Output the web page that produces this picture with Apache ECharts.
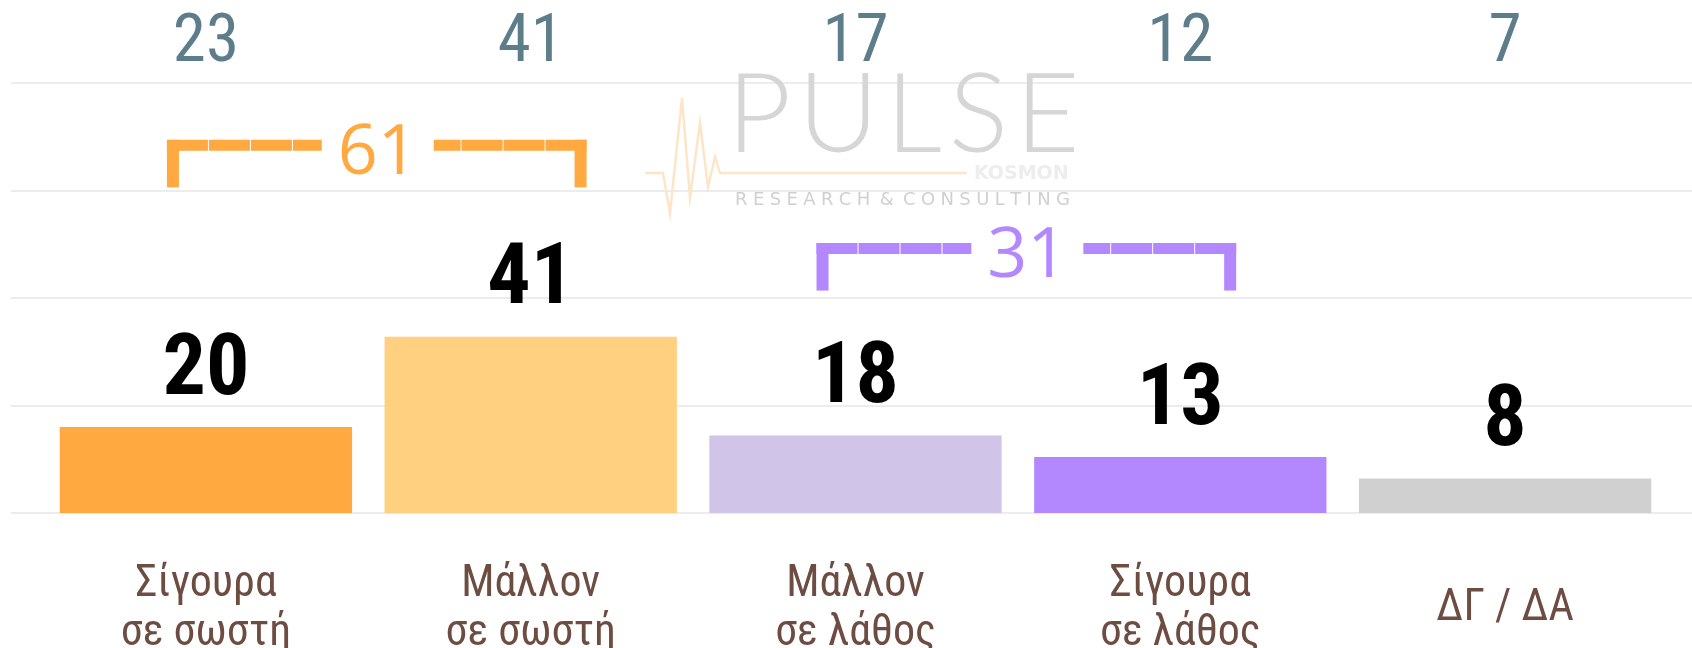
<!DOCTYPE html>
<html>
<head>
<meta charset="utf-8">
<script src="https://cdn.jsdelivr.net/npm/echarts@6/dist/echarts.min.js"></script>
<style>
  html, body { margin: 0; padding: 0; background: #fff; }
  #chart { width: 1692px; height: 648px; }
</style>
</head>
<body>
<div id="chart"></div>
<script>
// data
var categories = ['Σίγουρα\nσε σωστή', 'Μάλλον\nσε σωστή', 'Μάλλον\nσε λάθος', 'Σίγουρα\nσε λάθος', 'ΔΓ / ΔΑ'];
var values = [20, 41, 18, 13, 8];
var previous = [23, 41, 17, 12, 7];
var groupStart = [0, 2];
var groupEnd = [1, 3];
var groupSums = [61, 31];
var yTicks = [0, 25, 50, 75, 100];

(function() {
  var barColors = ['#FFA940', '#FFD080', '#D0C4E8', '#B388FF', '#D0D0D0'];
  var bracketColors = ['#FFA940', '#B388FF'];
  var bracketLevels = [85.5, 61.5];
  var narrow = "'Roboto Condensed', 'Liberation Sans Narrow', 'DejaVu Sans Condensed', sans-serif";

  var chart = echarts.init(document.getElementById('chart'), null, { renderer: 'canvas' });

  var groups = groupSums.map(function(s, i) { return [groupStart[i], groupEnd[i], s]; });

  chart.setOption({
    animation: false,
    grid: [
      { left: 11, right: 0, top: 83, bottom: 135, outerBoundsMode: 'none' },
      { left: 43.5, right: 24.5, top: 83, bottom: 135, outerBoundsMode: 'none' }
    ],
    xAxis: [
      { gridIndex: 0, type: 'value', show: false },
      { gridIndex: 1, type: 'category', data: categories, position: 'bottom',
        axisLine: { show: false }, axisTick: { show: false },
        axisLabel: { color: '#6D4C41', fontFamily: narrow, fontSize: 44, lineHeight: 49,
          margin: 96, verticalAlign: 'middle', interval: 0 } },
      { gridIndex: 1, type: 'category', data: previous.map(String), position: 'top',
        axisLine: { show: false }, axisTick: { show: false },
        axisLabel: { color: '#5E7D8B', fontFamily: narrow, fontSize: 67,
          margin: 39, verticalAlign: 'middle', interval: 0 } }
    ],
    yAxis: [
      { gridIndex: 0, type: 'value', min: yTicks[0], max: yTicks[yTicks.length - 1], interval: 25,
        axisLine: { show: false }, axisTick: { show: false }, axisLabel: { show: false },
        splitLine: { lineStyle: { color: '#E6E6E6', width: 1.5 } } },
      { gridIndex: 1, type: 'value', min: 0, max: 100, show: false, splitLine: { show: false } }
    ],
    graphic: [
      { type: 'polyline', z: 1, silent: true,
        shape: { points: [[645,173],[663,173],[670,213],[682,98],[690,198],[700,123],[708,187],[715,157],[720,173],[967,173]] },
        style: { stroke: '#FDE6C8', lineWidth: 2.5, fill: null } },
      { type: 'text', z: 1, silent: true, left: 727, top: 61,
        style: { text: 'P\u200AU\u200AL\u200AS\u200AE', fill: '#D6D6D6', font: '300 111px Lato, sans-serif' } },
      { type: 'text', z: 1, silent: true, left: 974, top: 165,
        style: { text: 'KOSMON', fill: '#EDEDED', font: 'bold 19px "DejaVu Sans", sans-serif' } },
      { type: 'text', z: 1, silent: true, left: 735, top: 191,
        style: { text: 'R\u2009\u200AE\u2009\u200AS\u2009\u200AE\u2009\u200AA\u2009\u200AR\u2009\u200AC\u2009\u200AH\u2009 &\u2009 C\u2009\u200AO\u2009\u200AN\u2009\u200AS\u2009\u200AU\u2009\u200AL\u2009\u200AT\u2009\u200AI\u2009\u200AN\u2009\u200AG',
          fill: '#D0D0D0', font: '18px "DejaVu Sans", sans-serif' } }
    ],
    series: [
      { type: 'bar', xAxisIndex: 1, yAxisIndex: 1, data: values, barCategoryGap: '10%',
        itemStyle: { color: function(p) { return barColors[p.dataIndex]; } },
        label: { show: true, position: 'top', distance: 12, color: '#000',
          fontFamily: narrow, fontWeight: 'bold', fontSize: 86 } },
      { type: 'custom', xAxisIndex: 1, yAxisIndex: 1, data: groups, clip: false, z: 3,
        renderItem: function(params, api) {
          var i = params.dataIndex;
          var lv = bracketLevels[i];
          var p1 = api.coord([api.value(0), lv]);
          var p2 = api.coord([api.value(1), lv]);
          var band = api.size([1, 0])[0];
          var L = p1[0] - band * 0.12, R = p2[0] + band * 0.172;
          var y = p1[1], mid = (L + R) / 2 + 1, gap = 56, th = 11, leg = 42, c = bracketColors[i];
          var line = { stroke: c, lineWidth: th, lineDash: [41, 1], lineCap: 'butt' };
          return { type: 'group', children: [
            { type: 'rect', shape: { x: L, y: y - th / 2, width: 12, height: leg + th / 2 }, style: { fill: c } },
            { type: 'rect', shape: { x: R - 12, y: y - th / 2, width: 12, height: leg + th / 2 }, style: { fill: c } },
            { type: 'line', shape: { x1: L, y1: y, x2: mid - gap, y2: y }, style: line },
            { type: 'line', shape: { x1: R, y1: y, x2: mid + gap, y2: y }, style: line },
            { type: 'text', x: mid, y: y + 9, style: { text: String(api.value(2)), fill: c,
              font: '70px "Open Sans", sans-serif', align: 'center', verticalAlign: 'middle' } }
          ] };
        } }
    ]
  });
  window.addEventListener('resize', function() { chart.resize(); });
})();
</script>
</body>
</html>
